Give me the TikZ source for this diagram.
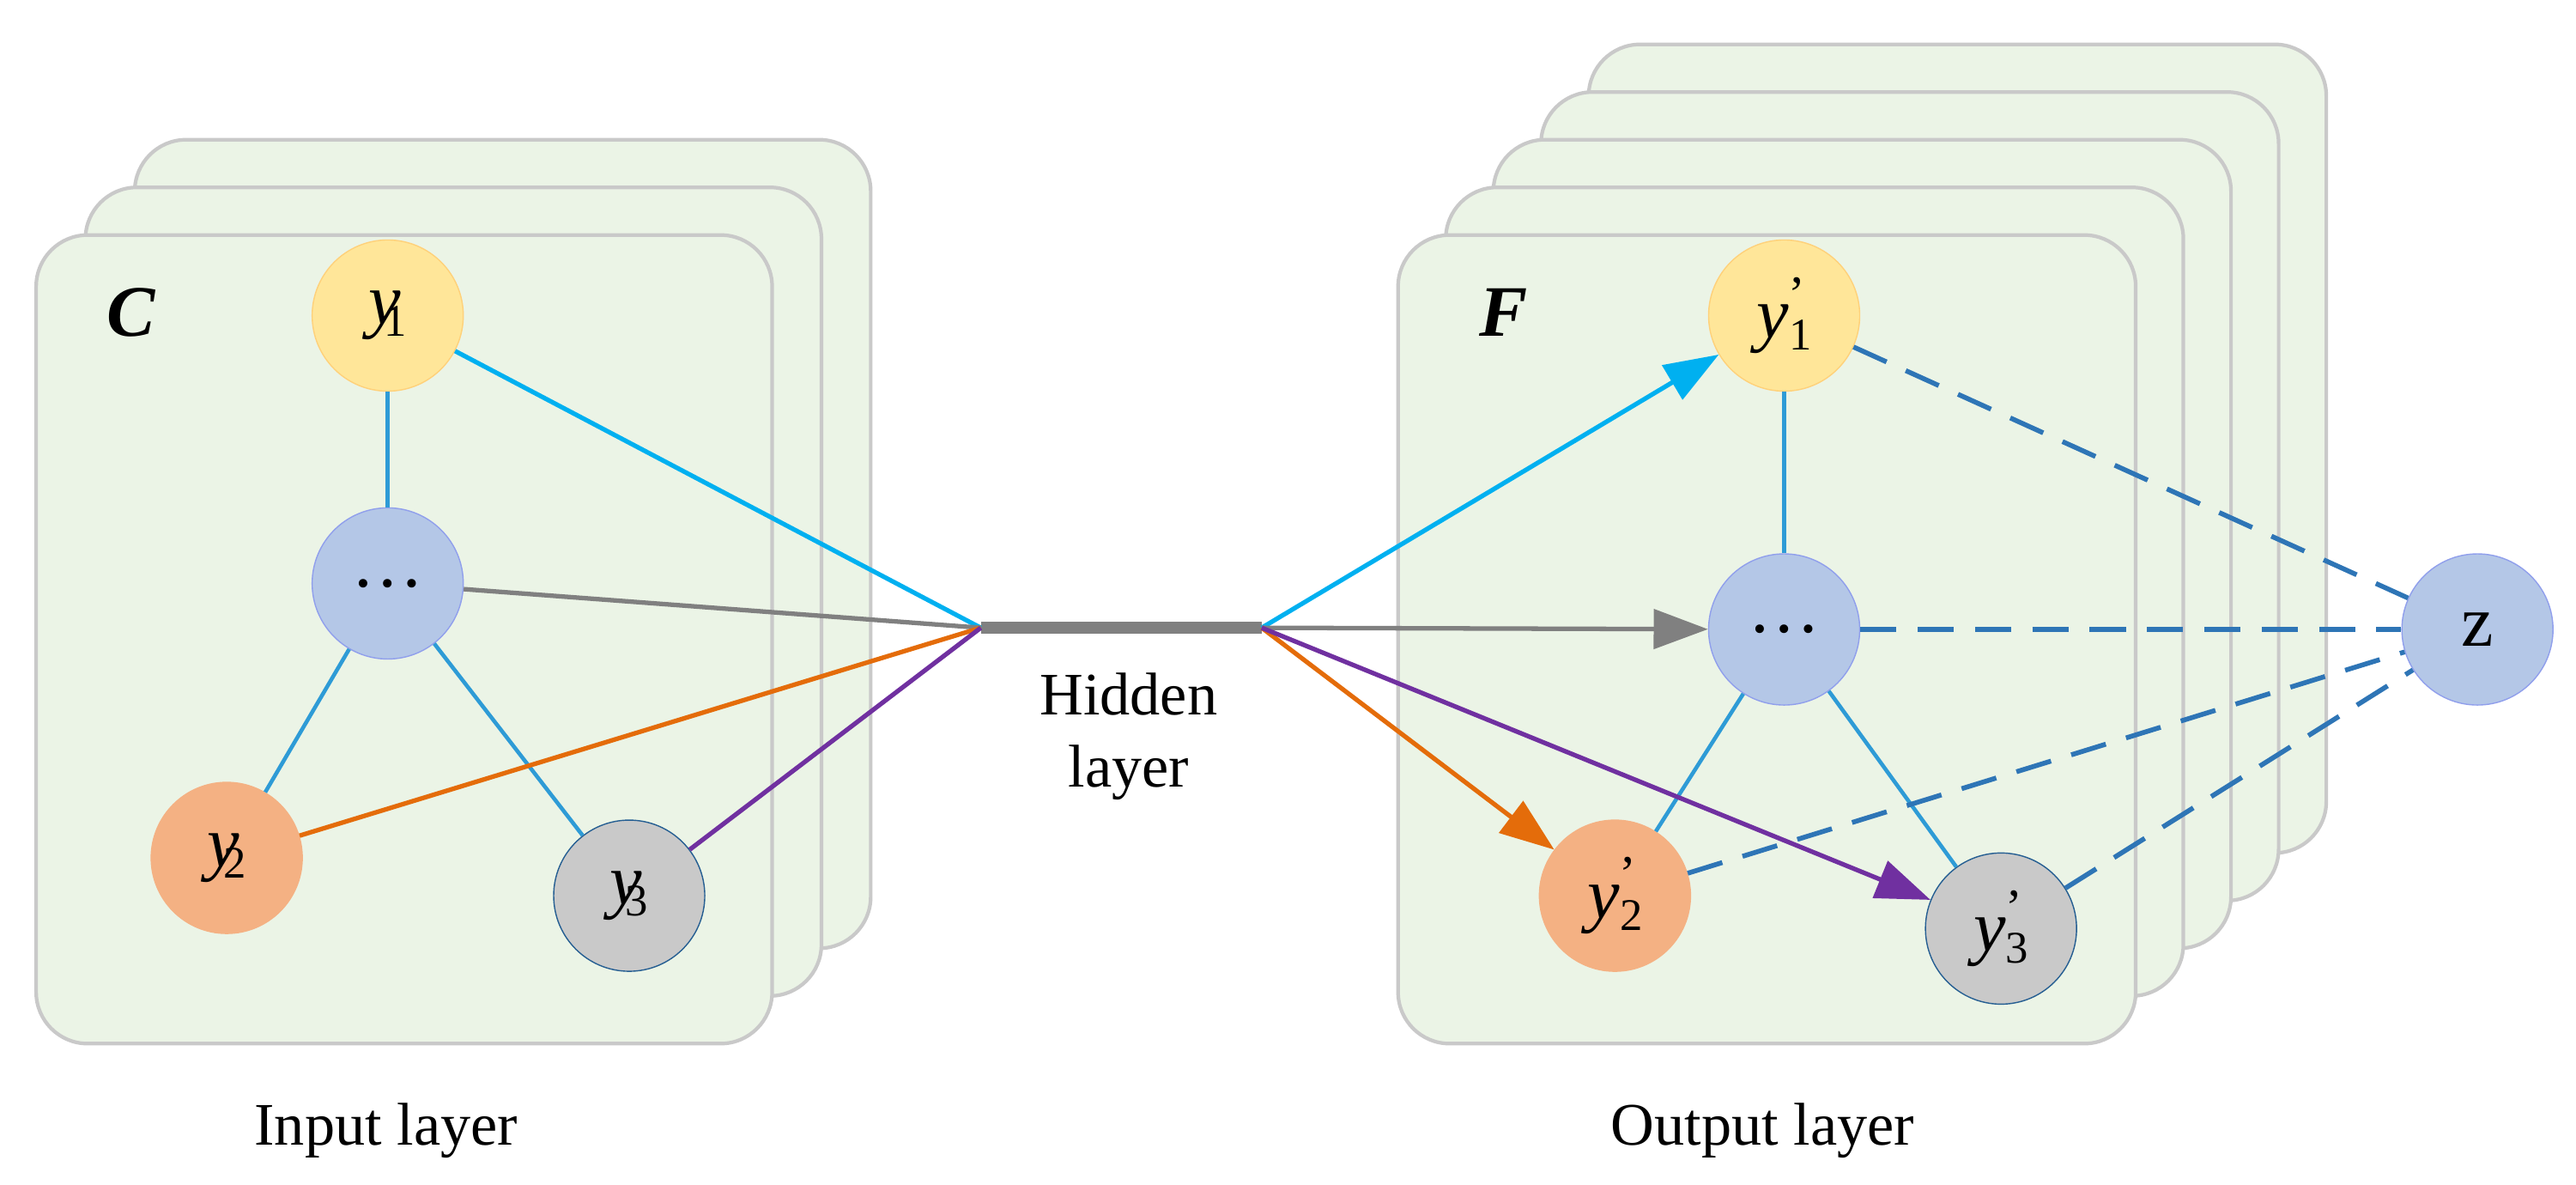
\documentclass[tikz,border=0pt]{standalone}
\usepackage{fontspec}
\setmainfont{Liberation Serif}
\usetikzlibrary{arrows.meta}
\definecolor{panel}{HTML}{EBF4E6}
\definecolor{rim}{HTML}{C9C9C9}
\definecolor{ylw}{HTML}{FFE699}
\definecolor{blu}{HTML}{B4C7E7}
\definecolor{org}{HTML}{F4B183}
\definecolor{gry}{HTML}{C9C9C9}
\definecolor{cyanl}{HTML}{00B0F0}
\definecolor{linkb}{HTML}{2E9BD6}
\definecolor{orl}{HTML}{E46C0A}
\definecolor{purl}{HTML}{7030A0}
\definecolor{dashb}{HTML}{2E75B6}
\newcommand{\yv}[2]{\textit{y}\textsuperscript{#2}\kern-0.25em\raisebox{-0.35ex}{\fontsize{15}{15}\selectfont#1}}
\tikzset{
  card/.style={draw=rim, fill=panel, line width=1.2pt, rounded corners=0.6cm},
  unit/.style={circle, minimum size=1.76cm, inner sep=0pt, font=\fontsize{24}{24}\selectfont},
  link/.style={linkb, line width=1.3pt},
  tozline/.style={dashb, line width=1.6pt, dash pattern=on 12pt off 7pt},
  tip/.style={-{Triangle[length=18pt,width=13pt]}}
}
\begin{document}
\begin{tikzpicture}[x=0.01914cm, y=-0.01914cm]
	\useasboundingbox (0,0) rectangle (1568,721);
	% input stack
	\foreach \k in {2,1,0}
	  \draw[card] (22+30*\k,143-29*\k) rectangle (470+30*\k,635-29*\k);
	% output stack
	\foreach \k in {4,3,2,1,0}
	  \draw[card] (851+29*\k,143-29*\k) rectangle (1300+29*\k,635-29*\k);
	\node[font=\fontsize{24}{24}\selectfont\bfseries\itshape] (cin) at (80,190) {C};
	\node[font=\fontsize{24}{24}\selectfont\bfseries\itshape] (fout) at (915,190) {F};
	% input nodes
	\node[unit, fill=ylw, draw=ylw!80!orange] (a1) at (236,192) {\yv{1}{}};
	\node[unit, fill=blu, draw=blu!80!blue] (ad) at (236,355) {…};
	\node[unit, fill=org, draw=org] (a2) at (138,522) {\yv{2}{}};
	\node[unit, fill=gry, draw=dashb!80!black] (a3) at (383,545) {\yv{3}{}};
	% hidden layer
	\coordinate (hl) at (597,382);
	\coordinate (hr) at (768,382);
	\draw[gray, line width=4pt] (hl) -- (hr);
	\node[align=center, font=\fontsize{20}{24}\selectfont] (hid) at (687,448) {Hidden\\layer};
	% output nodes
	\node[unit, fill=ylw, draw=ylw!80!orange] (b1) at (1086,192) {\yv{1}{'}};
	\node[unit, fill=blu, draw=blu!80!blue] (bd) at (1086,383) {…};
	\node[unit, fill=org, draw=org] (b2) at (983,545) {\yv{2}{'}};
	\node[unit, fill=gry, draw=dashb!80!black] (b3) at (1218,565) {\yv{3}{'}};
	\node[unit, fill=blu, draw=blu!80!blue] (z) at (1508,383) {z};
	% inside links
	\draw[link] (a1) -- (ad);
	\draw[link] (ad) -- (a2);
	\draw[link] (ad) -- (a3);
	\draw[link] (b1) -- (bd);
	\draw[link] (bd) -- (b2);
	\draw[link] (bd) -- (b3);
	% into the hidden layer
	\draw[cyanl, line width=1.5pt] (a1) -- (hl);
	\draw[gray, line width=1.5pt] (ad) -- (hl);
	\draw[orl, line width=1.5pt] (a2) -- (hl);
	\draw[purl, line width=1.5pt] (a3) -- (hl);
	% out of the hidden layer
	\draw[cyanl, line width=1.5pt, tip] (hr) -- (b1);
	\draw[gray, line width=1.5pt, tip] (hr) -- (bd);
	\draw[orl, line width=1.5pt, tip] (hr) -- (b2);
	\draw[purl, line width=1.5pt, tip] (hr) -- (b3);
	% to z
	\foreach \n in {b1,bd,b2,b3}
	  \draw[tozline] (\n) -- (z);
	\node[font=\fontsize{20}{20}\selectfont] (lin) at (235,688) {Input layer};
	\node[font=\fontsize{20}{20}\selectfont] (lout) at (1073,688) {Output layer};
\end{tikzpicture}
\end{document}
